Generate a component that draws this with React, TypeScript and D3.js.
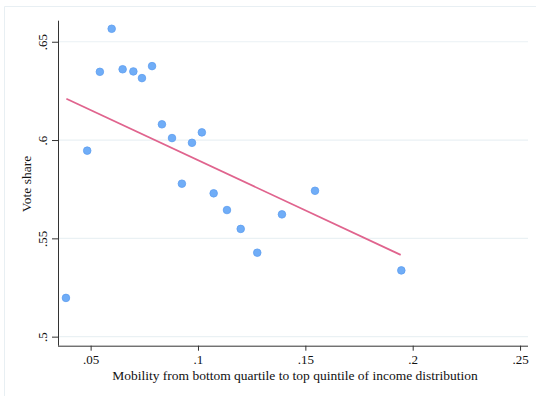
import React, { useRef, useEffect } from 'react';
import * as d3 from 'd3';

// mobility (x) and vote share (y), one entry per point
const mobility = [
  0.0385, 0.0484, 0.0543, 0.0598, 0.0649, 0.0699, 0.0739, 0.0786, 0.0832, 0.0879,
  0.0925, 0.0972, 0.1018, 0.1073, 0.1135, 0.1199, 0.1276, 0.1391, 0.1545, 0.1947,
];
const voteShare = [
  0.5197, 0.5946, 0.6347, 0.6566, 0.636, 0.6349, 0.6315, 0.6376, 0.608, 0.601,
  0.5778, 0.5986, 0.6039, 0.5729, 0.5644, 0.5548, 0.5427, 0.5622, 0.5742, 0.5337,
];

// fitted line endpoints
const fitX = [0.0387, 0.1944];
const fitY = [0.621, 0.5416];

const xTicks = [0.05, 0.1, 0.15, 0.2, 0.25];
const xTickLabels = ['.05', '.1', '.15', '.2', '.25'];
const yTicks = [0.5, 0.55, 0.6, 0.65];
const yTickLabels = ['.5', '.55', '.6', '.65'];

const App = () => {
  const ref = useRef<SVGSVGElement>(null);

  useEffect(() => {
    const width = 536;
    const height = 396;
    const left = 58;
    const right = 528;
    const top = 20.7;
    const bottom = 345.7;
    const font = '"Liberation Serif", "Times New Roman", serif';

    const svg = d3.select(ref.current);
    svg.selectAll('*').remove();

    svg.append('rect').attr('width', width).attr('height', height).attr('fill', '#fff');

    // outer frame lines
    svg.append('line')
      .attr('x1', 4.5).attr('x2', width).attr('y1', 6.5).attr('y2', 6.5)
      .attr('stroke', '#e8eff3').attr('stroke-width', 1);
    svg.append('line')
      .attr('x1', 4.5).attr('x2', 4.5).attr('y1', 6.5).attr('y2', height)
      .attr('stroke', '#e8eff3').attr('stroke-width', 1);

    const x = d3.scaleLinear().domain([0.0348, 0.2537]).range([left, right]);
    const y = d3.scaleLinear().domain([0.4954, 0.6607]).range([bottom, top]);

    // gridlines
    svg.append('g')
      .selectAll('line')
      .data(yTicks)
      .join('line')
      .attr('x1', left).attr('x2', right)
      .attr('y1', d => y(d)).attr('y2', d => y(d))
      .attr('stroke', '#eaf1f4').attr('stroke-width', 1.2);

    // y axis
    const yAxis = svg.append('g')
      .attr('transform', `translate(${left},0)`)
      .call(d3.axisLeft(y).tickValues(yTicks).tickSize(6).tickPadding(8)
        .tickFormat((d, i) => yTickLabels[i]));
    yAxis.select('.domain').attr('stroke', '#333').attr('d', `M0.5,${top}V${bottom}`);
    yAxis.selectAll('.tick line').attr('stroke', '#333');
    yAxis.selectAll('.tick text')
      .attr('font-family', font).attr('font-size', 13).attr('fill', '#111')
      .attr('text-anchor', 'middle').attr('dy', 0).attr('x', 0)
      .attr('transform', 'translate(-14,0) rotate(-90)')
      .attr('y', 0)
      .attr('dominant-baseline', 'middle');

    // x axis
    const xAxis = svg.append('g')
      .attr('transform', `translate(0,${bottom})`)
      .call(d3.axisBottom(x).tickValues(xTicks).tickSize(5).tickPadding(4)
        .tickFormat((d, i) => xTickLabels[i]));
    xAxis.select('.domain').attr('stroke', '#333').attr('d', `M${left},0.5H${right}`);
    xAxis.selectAll('.tick line').attr('stroke', '#333');
    xAxis.selectAll('.tick text')
      .attr('font-family', font).attr('font-size', 13).attr('fill', '#111');

    // axis titles
    svg.append('text')
      .attr('x', (left + right) / 2 + 2).attr('y', 380)
      .attr('text-anchor', 'middle')
      .attr('font-family', font).attr('font-size', 13.5).attr('fill', '#111')
      .text('Mobility from bottom quartile to top quintile of income distribution');
    svg.append('text')
      .attr('transform', `translate(31,${184}) rotate(-90)`)
      .attr('text-anchor', 'middle')
      .attr('font-family', font).attr('font-size', 13.5).attr('fill', '#111')
      .text('Vote share');

    // fitted line
    const line = d3.line<number>()
      .x(d => x(d))
      .y((d, i) => y(fitY[i]));
    svg.append('path')
      .attr('d', line(fitX))
      .attr('fill', 'none')
      .attr('stroke', '#e0648e')
      .attr('stroke-width', 1.8);

    // points
    svg.append('g')
      .selectAll('circle')
      .data(mobility)
      .join('circle')
      .attr('cx', d => x(d))
      .attr('cy', (d, i) => y(voteShare[i]))
      .attr('r', 3.8)
      .attr('fill', '#70adf7')
      .attr('stroke', '#5e9ef0')
      .attr('stroke-width', 0.8);
  }, []);

  return (
    <svg
      ref={ref}
      width={536}
      height={396}
      style={{ position: 'absolute', left: 0, top: 0 }}
    />
  );
};

export default App;
